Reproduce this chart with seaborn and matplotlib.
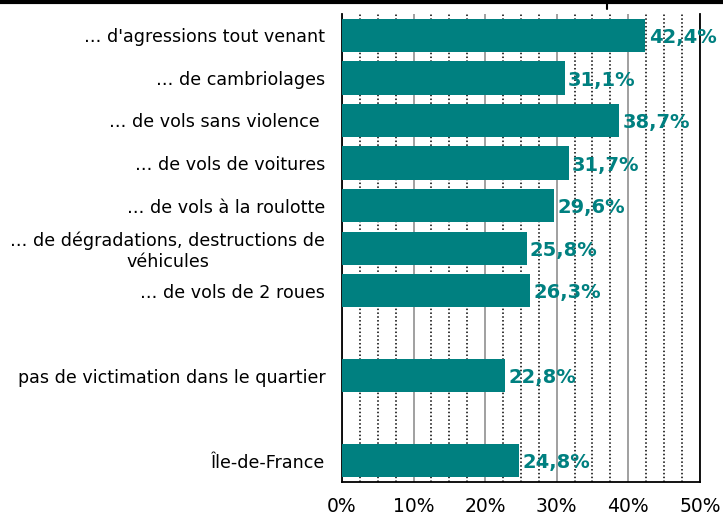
import numpy as np
import pandas as pd
import seaborn as sns
import matplotlib.pyplot as plt
from matplotlib.ticker import MultipleLocator, FuncFormatter
from matplotlib.lines import Line2D

categories = ["… d'agressions tout venant",
              "… de cambriolages",
              "… de vols sans violence ",
              "… de vols de voitures",
              "… de vols à la roulotte",
              "… de dégradations, destructions de\nvéhicules",
              "… de vols de 2 roues",
              " ",
              "pas de victimation dans le quartier",
              "  ",
              "Île-de-France"]
values = [42.4, 31.1, 38.7, 31.7, 29.6, 25.8, 26.3, np.nan, 22.8, np.nan, 24.8]
teal = "#008080"

df = pd.DataFrame({"cat": categories, "val": values})

sns.set_style("white")
plt.rcParams['font.family'] = ['DejaVu Sans']
plt.rcParams['text.color'] = 'black'
plt.rcParams['xtick.color'] = 'black'
plt.rcParams['ytick.color'] = 'black'

fig = plt.figure(figsize=(7.23, 5.24), dpi=100)
ax = fig.add_axes([0.473, 0.080, 0.495, 0.893])

sns.barplot(data=df, x="val", y="cat", order=categories, color=teal,
            saturation=1, width=0.78, orient="h", ax=ax, zorder=3,
            edgecolor=teal, linewidth=0)

ax.set_xlim(0, 50)
ax.set_ylim(len(categories) - 0.5, -0.5)
ax.xaxis.set_major_locator(MultipleLocator(10))
ax.xaxis.set_minor_locator(MultipleLocator(2.5))
ax.xaxis.set_major_formatter(FuncFormatter(lambda v, p: f"{v:.0f}%"))
ax.grid(which="major", axis="x", color="#999999", lw=1.3, ls="-", zorder=0)
ax.grid(which="minor", axis="x", color="black", lw=1.1, ls=(0, (1, 1.5)), zorder=0)
ax.set_axisbelow(True)

ax.set_xlabel("")
ax.set_ylabel("")
ax.tick_params(axis="x", which="major", length=5, width=1, color="black",
               labelsize=13.5, pad=6, direction="out", labelcolor="black")
ax.tick_params(axis="x", which="minor", length=0)
ax.tick_params(axis="y", which="major", length=0, labelsize=12.6, pad=12,
               labelcolor="black")
ax.set_yticks(np.arange(len(categories) + 1) - 0.5, minor=True)
ax.tick_params(axis="y", which="minor", length=5, width=1, color="#555555")

for lab in ax.get_yticklabels():
    lab.set_multialignment("center")

for s in ["left", "bottom", "right"]:
    ax.spines[s].set_color("black")
    ax.spines[s].set_linewidth(1.3)
    ax.spines[s].set_visible(True)
ax.spines["top"].set_visible(False)

for i, v in enumerate(values):
    if not np.isnan(v):
        ax.text(v + 0.45, i + 0.05, f"{v:.1f}%".replace(".", ","),
                color=teal, fontsize=14, fontweight="bold",
                va="center", ha="left", zorder=5)

fig.add_artist(Line2D([0, 1], [0.996, 0.996], lw=3, color="black"))
fig.add_artist(Line2D([0.8395, 0.8395], [0.996, 0.983], lw=1.5, color="black"))

fig.savefig("out.png", dpi=100)
